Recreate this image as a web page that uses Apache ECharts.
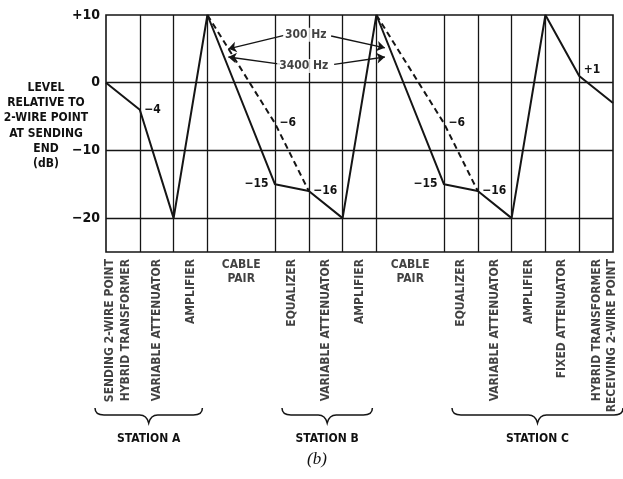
<!DOCTYPE html>
<html><head><meta charset="utf-8">
<script src="https://cdn.jsdelivr.net/npm/echarts@6/dist/echarts.min.js"></script>
<style>html,body{margin:0;padding:0;background:#fff}#c{width:623px;height:479px}</style>
</head><body><div id="c"></div>
<script>
// ---------------- DATA ----------------
// Level (dB) at each stage boundary 0..15 (null = no boundary, middle of a cable pair)
const level3400 = [0, -4, -20, 10, null, -15, -16, -20, 10, null, -15, -16, -20, 10, 1, -3];
const level300  = [null, null, null, 10, null, -6, -16, null, 10, null, -6, -16, null, null, null, null];
const stages = ['SENDING 2-WIRE POINT\nHYBRID TRANSFORMER', 'VARIABLE ATTENUATOR', 'AMPLIFIER', 'CABLE\nPAIR',
  'EQUALIZER', 'VARIABLE ATTENUATOR', 'AMPLIFIER', 'CABLE\nPAIR',
  'EQUALIZER', 'VARIABLE ATTENUATOR', 'AMPLIFIER', 'FIXED ATTENUATOR', 'HYBRID TRANSFORMER\nRECEIVING 2-WIRE POINT'];
const stageCells = [1, 1, 1, 2, 1, 1, 1, 2, 1, 1, 1, 1, 1];
const stations = ['STATION A', 'STATION B', 'STATION C'];
const stationFirstStage = [0, 4, 8];
const stationLastStage = [2, 6, 12];
const yTickValues = [10, 0, -10, -20];
const yTickLabels = ['+10', '0', '\u221210', '\u221220'];
const labeled3400 = [1, 5, 6, 10, 11, 14];
const labeled300 = [5, 10];
const freqLabels = ['300 Hz', '3400 Hz'];
const yTitle = 'LEVEL\nRELATIVE TO\n2-WIRE POINT\nAT SENDING\nEND\n(dB)';
const caption = '(b)';

// ---------------- LAYOUT / STYLE ----------------
const FONT = '"DejaVu Sans Condensed","Liberation Sans Narrow",sans-serif';
const INK = '#151515';
const TXT = '#111';
const fmt = v => v > 0 ? '+' + v : (v < 0 ? '\u2212' + (-v) : '0');
const leftSide3400 = new Set([5, 10]);
const labelOffset = {14: [0, -6]};
const freqLabelPos = [[5.91, 7.1], [5.85, 2.45]];
const arrows = [
  [[5.27, 7.0], [3.62, 5.0]], [[5.15, 2.75], [3.62, 3.8]],
  [[6.66, 6.9], [8.25, 5.15]], [[6.75, 2.7], [8.25, 3.8]]
];
const stageLabelShift = {0: -0.15, 12: 0.24};
const braceAdjustPx = [[-11, -5], [7, -4], [8, 10]];
const TEXT = {color: TXT, fontFamily: FONT, fontSize: 12, fontWeight: 'bold'};

// solid line data
const solidData = [];
level3400.forEach((v, i) => {
  if (v == null) return;
  const item = {value: [i, v]};
  if (labeled3400.includes(i)) {
    item.label = {show: true, formatter: fmt(v), position: leftSide3400.has(i) ? 'left' : 'right',
      distance: leftSide3400.has(i) ? 6 : 4, offset: labelOffset[i] || [0, 0]};
  }
  solidData.push(item);
});
// dashed (300 Hz) data with breaks
const dashedData = [];
level300.forEach((v, i) => {
  if (v != null) {
    const item = {value: [i, v]};
    if (labeled300.includes(i)) item.label = {show: true, formatter: fmt(v), position: 'right', distance: 4};
    dashedData.push(item);
  } else if (level3400[i] != null) {
    dashedData.push({value: [i, null]});
  }
});
// vertical rules at every boundary inside the box
const vRules = [];
level3400.forEach((v, i) => { if (v != null && i > 0 && i < level3400.length - 1) vRules.push({xAxis: i}); });
const hRules = yTickValues.filter(v => v < 10).map(v => ({yAxis: v}));

// stage label positions
const cellStart = [];
let acc = 0;
stageCells.forEach(c => { cellStart.push(acc); acc += c; });
const stageData = stages.map((s, i) => {
  const cx = cellStart[i] + stageCells[i] / 2 + (stageLabelShift[i] || 0);
  const horizontal = stageCells[i] > 1;
  return {
    name: s, value: [cx, horizontal ? 5 : 6],
    label: horizontal ? {rotate: 0, align: 'center', verticalAlign: 'top', lineHeight: 14}
                      : {rotate: 90, align: 'right', verticalAlign: 'middle', lineHeight: 15.3}
  };
});
const braceData = stations.map((s, i) => ({
  name: s,
  value: [cellStart[stationFirstStage[i]], cellStart[stationLastStage[i]] + stageCells[stationLastStage[i]]]
}));

const chart = echarts.init(document.getElementById('c'), null, {renderer: 'canvas'});
chart.setOption({
  backgroundColor: '#fff',
  animation: false,
  grid: [
    {left: 106, right: 10, top: 15, bottom: 227, show: true, borderColor: INK, borderWidth: 1.6, backgroundColor: 'transparent'},
    {left: 106, right: 10, top: 253, bottom: 0}
  ],
  xAxis: [
    {gridIndex: 0, type: 'value', min: 0, max: 15, interval: 1, axisLabel: {show: false}, axisTick: {show: false},
     axisLine: {show: false}, splitLine: {show: false}},
    {gridIndex: 1, type: 'value', min: 0, max: 15, show: false}
  ],
  yAxis: [
    {gridIndex: 0, type: 'value', min: -25, max: 10, interval: 5, axisLine: {show: false}, axisTick: {show: false},
     splitLine: {show: false},
     axisLabel: Object.assign({}, TEXT, {margin: 6, fontSize: 14,
       formatter: v => { const k = yTickValues.indexOf(v); return k >= 0 ? yTickLabels[k] : ''; }})},
    {gridIndex: 1, type: 'value', min: 0, max: 226, inverse: true, show: false}
  ],
  graphic: [
    {type: 'text', x: 46, y: 80, style: {text: yTitle, align: 'center', textAlign: 'center', verticalAlign: 'top',
      textVerticalAlign: 'top', font: 'bold 12px ' + FONT, lineHeight: 15.3, fill: TXT}},
    {type: 'text', x: 317, y: 460, style: {text: caption, align: 'center', textAlign: 'center', verticalAlign: 'middle',
      textVerticalAlign: 'middle', font: 'italic 17px "Liberation Serif","DejaVu Serif",serif', fill: TXT}}
  ],
  series: [
    {type: 'line', name: 'rules', xAxisIndex: 0, yAxisIndex: 0, data: [[0, 0]], symbol: 'none',
     lineStyle: {width: 0}, z: 1, silent: true,
     markLine: {silent: true, symbol: 'none', label: {show: false}, animation: false,
       lineStyle: {color: INK, width: 1.3, type: 'solid'}, data: vRules.concat(hRules)}},
    {type: 'line', name: '3400 Hz', xAxisIndex: 0, yAxisIndex: 0, data: solidData, z: 3,
     symbol: 'circle', symbolSize: 1, itemStyle: {color: 'rgba(0,0,0,0)'},
     lineStyle: {color: INK, width: 2},
     label: TEXT},
    {type: 'line', name: '300 Hz', xAxisIndex: 0, yAxisIndex: 0, data: dashedData, z: 3, connectNulls: false,
     symbol: 'circle', symbolSize: 1, itemStyle: {color: 'rgba(0,0,0,0)'},
     lineStyle: {color: INK, width: 2, type: [6, 4]},
     label: TEXT},
    {type: 'line', name: 'arrows', xAxisIndex: 0, yAxisIndex: 0, data: [[0, 0]], symbol: 'none', lineStyle: {width: 0}, z: 4,
     markLine: {silent: true, symbol: ['none', 'arrow'], symbolSize: 8, label: {show: false},
       lineStyle: {color: INK, width: 1.4, type: 'solid'},
       data: arrows.map(a => [{coord: a[0]}, {coord: a[1]}])}},
    {type: 'scatter', name: 'freq', xAxisIndex: 0, yAxisIndex: 0, z: 6, symbolSize: 1, itemStyle: {color: 'rgba(0,0,0,0)'},
     data: freqLabels.map((t, i) => ({name: t, value: freqLabelPos[i]})),
     label: Object.assign({}, TEXT, {show: true, position: 'inside', formatter: '{b}', backgroundColor: '#fff', padding: [1, 2]})},
    {type: 'scatter', name: 'stages', xAxisIndex: 1, yAxisIndex: 1, symbolSize: 1, itemStyle: {color: 'rgba(0,0,0,0)'},
     data: stageData,
     label: Object.assign({}, TEXT, {show: true, position: 'inside', formatter: '{b}'})},
    {type: 'custom', name: 'stations', xAxisIndex: 1, yAxisIndex: 1, data: braceData, clip: false,
     renderItem: (params, api) => {
       const adj = braceAdjustPx[params.dataIndex];
       const a = api.coord([api.value(0), 155]);
       const b = api.coord([api.value(1), 155]);
       const x1 = a[0] + adj[0], x2 = b[0] + adj[1];
       const yt = a[1], yl = api.coord([0, 162])[1], ytip = api.coord([0, 170])[1], ytxt = api.coord([0, 186])[1];
       const xm = (x1 + x2) / 2;
       const p = `M${x1},${yt} Q${x1},${yl} ${x1 + 9},${yl} L${xm - 9},${yl} Q${xm - 2},${yl} ${xm},${ytip} Q${xm + 2},${yl} ${xm + 9},${yl} L${x2 - 9},${yl} Q${x2},${yl} ${x2},${yt}`;
       return {type: 'group', children: [
         {type: 'path', shape: {pathData: p}, style: {stroke: INK, fill: 'none', lineWidth: 1.5}},
         {type: 'text', x: xm, y: ytxt, style: {text: stations[params.dataIndex], align: 'center', textAlign: 'center',
           verticalAlign: 'middle', textVerticalAlign: 'middle', font: 'bold 12px ' + FONT, fill: TXT}}
       ]};
     }}
  ]
});
</script></body></html>
